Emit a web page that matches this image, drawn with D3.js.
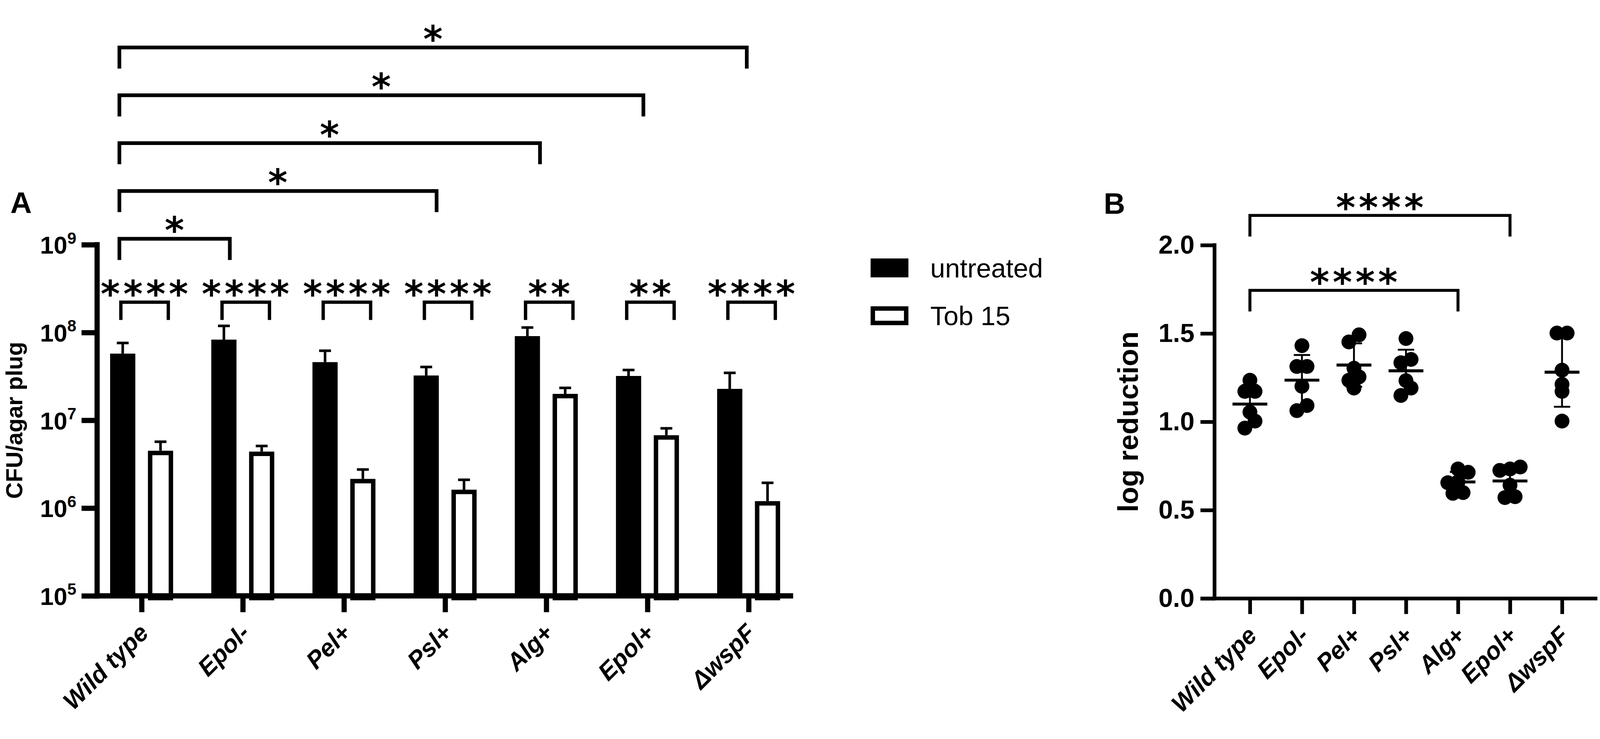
<!DOCTYPE html>
<html>
<head>
<meta charset="utf-8">
<script src="https://cdn.jsdelivr.net/npm/d3@7"></script>
<style>
  html, body { margin: 0; padding: 0; background: #fff; overflow: hidden; }
  svg { display: block; width: 100vw; height: 100vh; }
  svg text { font-family: "Liberation Sans", Arial, sans-serif; fill: #000; }
</style>
</head>
<body>
<div id="chart"></div>
<script>
// ---- data ----
const categories = ['Wild type', 'Epol-', 'Pel+', 'Psl+', 'Alg+', 'Epol+', '\u0394wspF'];
const groups = ['untreated', 'Tob 15'];

// panel A: CFU per agar plug (mean and SD)
const untreatedMean = [5.75e7, 8.3e7, 4.6e7, 3.24e7, 9.1e7, 3.2e7, 2.28e7];
const untreatedSd   = [1.85e7, 3.6e7, 1.6e7, 0.81e7, 2.3e7, 0.54e7, 1.19e7];
const tobMean       = [4.5e6, 4.4e6, 2.15e6, 1.62e6, 2.0e7, 6.76e6, 1.2e6];
const tobSd         = [1.2e6, 0.7e6, 0.6e6, 0.48e6, 0.34e7, 1.34e6, 0.74e6];
const yTicksA = [1e5, 1e6, 1e7, 1e8, 1e9];

// significance marks, panel A
const pairStars = ['****', '****', '****', '****', '**', '**', '****'];
const wtCompareA = ['Epol-', 'Psl+', 'Alg+', 'Epol+', '\u0394wspF'];
const wtCompareALabel = ['*', '*', '*', '*', '*'];

// panel B: log reduction, six replicates per strain
const logWT     = [1.235, 1.172, 1.172, 1.055, 1.004, 0.964];
const logEpolM  = [1.431, 1.313, 1.313, 1.201, 1.092, 1.063];
const logPel    = [1.492, 1.452, 1.303, 1.254, 1.235, 1.191];
const logPsl    = [1.471, 1.353, 1.334, 1.233, 1.191, 1.149];
const logAlg    = [0.733, 0.714, 0.660, 0.655, 0.599, 0.595];
const logEpolP  = [0.744, 0.733, 0.725, 0.641, 0.576, 0.571];
const logWspF   = [1.502, 1.502, 1.292, 1.212, 1.172, 1.004];
const yTicksB = [0, 0.5, 1.0, 1.5, 2.0];
const wtCompareB = ['Alg+', 'Epol+'];
const wtCompareBLabel = ['****', '****'];

// ---- layout ----
const W = 4317, H = 1891;
const A = { left: 262, right: 2140, top: 609, bottom: 1556 };
const B = { left: 3277, right: 4310, top: 610, bottom: 1563 };
const FONT = '"Liberation Sans", Arial, sans-serif';
const STAR_FONT = '"DejaVu Sans", sans-serif';

const svg = d3.select('#chart').append('svg')
  .attr('viewBox', `0 0 ${W} ${H}`)
  .attr('preserveAspectRatio', 'xMidYMid meet');

// ======================= Panel A =======================
const xA = d3.scalePoint().domain(categories).range([A.left, A.right]).padding(0.44);
const xSub = d3.scaleBand().domain(groups).range([-85, 85]).paddingInner(1 / 3);
const yA = d3.scaleLog().domain([1e5, 1e9]).range([A.bottom, A.top]);

const barsA = categories.map((c, i) => ([
  { cat: c, group: groups[0], mean: untreatedMean[i], sd: untreatedSd[i] },
  { cat: c, group: groups[1], mean: tobMean[i], sd: tobSd[i] }
])).flat();

const gA = svg.append('g');

// bars
const bw = xSub.bandwidth();
const stroke = 12;
gA.selectAll('rect.bar')
  .data(barsA)
  .join('rect')
  .attr('class', 'bar')
  .attr('x', d => xA(d.cat) + xSub(d.group) + (d.group === groups[1] ? stroke / 2 : 0))
  .attr('y', d => yA(d.mean) + (d.group === groups[1] ? stroke / 2 : 0))
  .attr('width', d => d.group === groups[1] ? bw - stroke : bw)
  .attr('height', d => yA(1e5) - yA(d.mean))
  .attr('fill', d => d.group === groups[0] ? '#000' : '#fff')
  .attr('stroke', d => d.group === groups[0] ? 'none' : '#000')
  .attr('stroke-width', stroke);

// error bars (upper only)
const eb = gA.selectAll('g.err').data(barsA).join('g').attr('class', 'err')
  .attr('transform', d => `translate(${xA(d.cat) + xSub(d.group) + bw / 2},0)`);
eb.append('line')
  .attr('x1', 0).attr('x2', 0)
  .attr('y1', d => yA(d.mean)).attr('y2', d => yA(d.mean + d.sd))
  .attr('stroke', '#000').attr('stroke-width', 7);
eb.append('line')
  .attr('x1', -16).attr('x2', 16)
  .attr('y1', d => yA(d.mean + d.sd)).attr('y2', d => yA(d.mean + d.sd))
  .attr('stroke', '#000').attr('stroke-width', 7);

// y axis
const yAxisA = d3.axisLeft(yA).tickValues(yTicksA).tickSize(42).tickSizeOuter(0).tickPadding(14);
const gyA = gA.append('g').attr('transform', `translate(${A.left},0)`).call(yAxisA);
gyA.select('.domain').remove();
gyA.selectAll('.tick line').attr('stroke', '#000').attr('stroke-width', 14);
gyA.selectAll('.tick text')
  .text(null)
  .attr('dy', '0.36em')
  .style('font-family', FONT)
  .style('font-weight', 'bold')
  .style('font-size', '66px')
  .each(function (d) {
    const t = d3.select(this);
    t.append('tspan').text('10');
    t.append('tspan').attr('dy', -27).style('font-size', '44px').text(Math.round(Math.log10(d)));
  });
gA.append('line')
  .attr('x1', A.left).attr('x2', A.left)
  .attr('y1', A.top - 7).attr('y2', A.bottom + 7)
  .attr('stroke', '#000').attr('stroke-width', 14);

// x axis
const xAxisA = d3.axisBottom(xA).tickSize(44).tickSizeOuter(0);
const gxA = gA.append('g').attr('transform', `translate(0,${A.bottom})`).call(xAxisA);
gxA.select('.domain').remove();
gxA.selectAll('.tick line').attr('stroke', '#000').attr('stroke-width', 14);
gxA.selectAll('.tick text')
  .attr('y', null).attr('dy', null)
  .attr('text-anchor', 'end')
  .attr('transform', 'translate(22,104) rotate(-45)')
  .style('font-family', FONT)
  .style('font-weight', 'bold')
  .style('font-style', 'italic')
  .style('font-size', '66px');
gA.append('line')
  .attr('x1', A.left - 7).attr('x2', A.right)
  .attr('y1', A.bottom).attr('y2', A.bottom)
  .attr('stroke', '#000').attr('stroke-width', 14);

// y title
gA.append('text')
  .attr('transform', `translate(60,${(A.top + A.bottom) / 2}) rotate(-90)`)
  .attr('text-anchor', 'middle')
  .style('font-weight', 'bold').style('font-size', '62px')
  .text('CFU/agar plug');

// panel letter
svg.append('text').attr('x', 28).attr('y', 523)
  .style('font-weight', 'bold').style('font-size', '80px').text('A');

// significance helpers
const STAR_FS = 100;
function bracket(g, x1, x2, y, leg, sw, label) {
  g.append('path')
    .attr('d', `M${x1},${y + leg}V${y}H${x2}V${y + leg}`)
    .attr('fill', 'none').attr('stroke', '#000')
    .attr('stroke-width', sw).attr('stroke-linejoin', 'miter');
  g.append('text')
    .attr('x', (x1 + x2) / 2 + 4)
    .attr('y', y - sw / 2 - 23 + 0.40 * STAR_FS)
    .attr('text-anchor', 'middle')
    .style('font-family', STAR_FONT)
    .style('font-weight', 'bold')
    .style('font-size', STAR_FS + 'px')
    .style('letter-spacing', '9px')
    .text(label);
}

// treated vs untreated within each strain
categories.forEach((c, i) => {
  bracket(gA, xA(c) - 56, xA(c) + 72, 764, 48, 9, pairStars[i]);
});

// wild type vs other strains
const levelTop = 77, levelStep = 129;
wtCompareA.forEach((c, k) => {
  const idx = categories.indexOf(c);
  const y = levelTop + levelStep * (wtCompareA.length - 1 - k);
  bracket(gA, xA(categories[0]) - 60, xA(c) - 35 + 6 * (idx - 1), y, 57, 10, wtCompareALabel[k]);
});

// legend
const lg = svg.append('g').attr('transform', 'translate(2349,646)');
groups.forEach((gname, i) => {
  const row = lg.append('g').attr('transform', `translate(0,${i * 129})`);
  row.append('rect')
    .attr('x', i ? stroke / 2 : 0).attr('y', i ? stroke / 2 : 0)
    .attr('width', i ? 102 - stroke : 102).attr('height', i ? 51 - stroke : 51)
    .attr('fill', i ? '#fff' : '#000')
    .attr('stroke', i ? '#000' : 'none').attr('stroke-width', stroke);
  row.append('text').attr('x', 161).attr('y', 51)
    .style('font-size', '72px').text(gname);
});

// ======================= Panel B =======================
const logSets = [logWT, logEpolM, logPel, logPsl, logAlg, logEpolP, logWspF];
const xB = d3.scalePoint().domain(categories).range([B.left, B.right]).padding(0.68);
const yB = d3.scaleLinear().domain([0, 2]).range([B.bottom, B.top]);
const gB = svg.append('g');

// simple binned dot layout: points in the same 0.08-wide bin sit side by side
const binW = 0.08, spread = 27.5;
const pointsB = [];
logSets.forEach((vals, i) => {
  const bins = d3.group(vals, v => Math.floor(v / binW + 1e-9));
  bins.forEach(list => {
    const sorted = list.slice().sort(d3.ascending);
    sorted.forEach((v, j) => {
      pointsB.push({ cat: categories[i], v, off: (j - (sorted.length - 1) / 2) * spread });
    });
  });
});

gB.selectAll('circle')
  .data(pointsB)
  .join('circle')
  .attr('cx', d => xB(d.cat) + d.off)
  .attr('cy', d => yB(d.v))
  .attr('r', 20)
  .attr('fill', '#000');

// mean and SD
const statsB = logSets.map((vals, i) => ({
  cat: categories[i], mean: d3.mean(vals), sd: d3.deviation(vals)
}));
const sg = gB.selectAll('g.stat').data(statsB).join('g').attr('class', 'stat')
  .attr('transform', d => `translate(${xB(d.cat)},0)`);
sg.append('line')
  .attr('x1', 0).attr('x2', 0)
  .attr('y1', d => yB(d.mean - d.sd)).attr('y2', d => yB(d.mean + d.sd))
  .attr('stroke', '#000').attr('stroke-width', 5);
sg.append('line')
  .attr('x1', -22).attr('x2', 22)
  .attr('y1', d => yB(d.mean + d.sd)).attr('y2', d => yB(d.mean + d.sd))
  .attr('stroke', '#000').attr('stroke-width', 5);
sg.append('line')
  .attr('x1', -22).attr('x2', 22)
  .attr('y1', d => yB(d.mean - d.sd)).attr('y2', d => yB(d.mean - d.sd))
  .attr('stroke', '#000').attr('stroke-width', 5);
sg.append('line')
  .attr('x1', -47).attr('x2', 47)
  .attr('y1', d => yB(d.mean)).attr('y2', d => yB(d.mean))
  .attr('stroke', '#000').attr('stroke-width', 8);

// axes
const yAxisB = d3.axisLeft(yB).tickValues(yTicksB).tickFormat(d3.format('.1f'))
  .tickSize(38).tickSizeOuter(0).tickPadding(16);
const gyB = gB.append('g').attr('transform', `translate(${B.left},0)`).call(yAxisB);
gyB.select('.domain').remove();
gyB.selectAll('.tick line').attr('stroke', '#000').attr('stroke-width', 10);
gyB.selectAll('.tick text')
  .style('font-family', FONT).style('font-weight', 'bold').style('font-size', '70px');
gB.append('line')
  .attr('x1', B.left).attr('x2', B.left)
  .attr('y1', B.top - 5).attr('y2', B.bottom + 5)
  .attr('stroke', '#000').attr('stroke-width', 10);

const xAxisB = d3.axisBottom(xB).tickSize(42).tickSizeOuter(0);
const gxB = gB.append('g').attr('transform', `translate(0,${B.bottom})`).call(xAxisB);
gxB.select('.domain').remove();
gxB.selectAll('.tick line').attr('stroke', '#000').attr('stroke-width', 10);
gxB.selectAll('.tick text')
  .attr('y', null).attr('dy', null)
  .attr('text-anchor', 'end')
  .attr('transform', 'translate(22,104) rotate(-45)')
  .style('font-family', FONT).style('font-weight', 'bold')
  .style('font-style', 'italic').style('font-size', '66px');
gB.append('line')
  .attr('x1', B.left - 38).attr('x2', B.right)
  .attr('y1', B.bottom).attr('y2', B.bottom)
  .attr('stroke', '#000').attr('stroke-width', 10);

gB.append('text')
  .attr('transform', `translate(3070,${(B.top + B.bottom) / 2}) rotate(-90)`)
  .attr('text-anchor', 'middle')
  .style('font-weight', 'bold').style('font-size', '77px')
  .text('log reduction');

svg.append('text').attr('x', 2978).attr('y', 526)
  .style('font-weight', 'bold').style('font-size', '80px').text('B');

// wild type vs Alg+ / Epol+
wtCompareB.forEach((c, k) => {
  const y = 732 - 202 * k;
  bracket(gB, xB(categories[0]), xB(c), y, 57, 8, wtCompareBLabel[k]);
});
</script>
</body>
</html>
